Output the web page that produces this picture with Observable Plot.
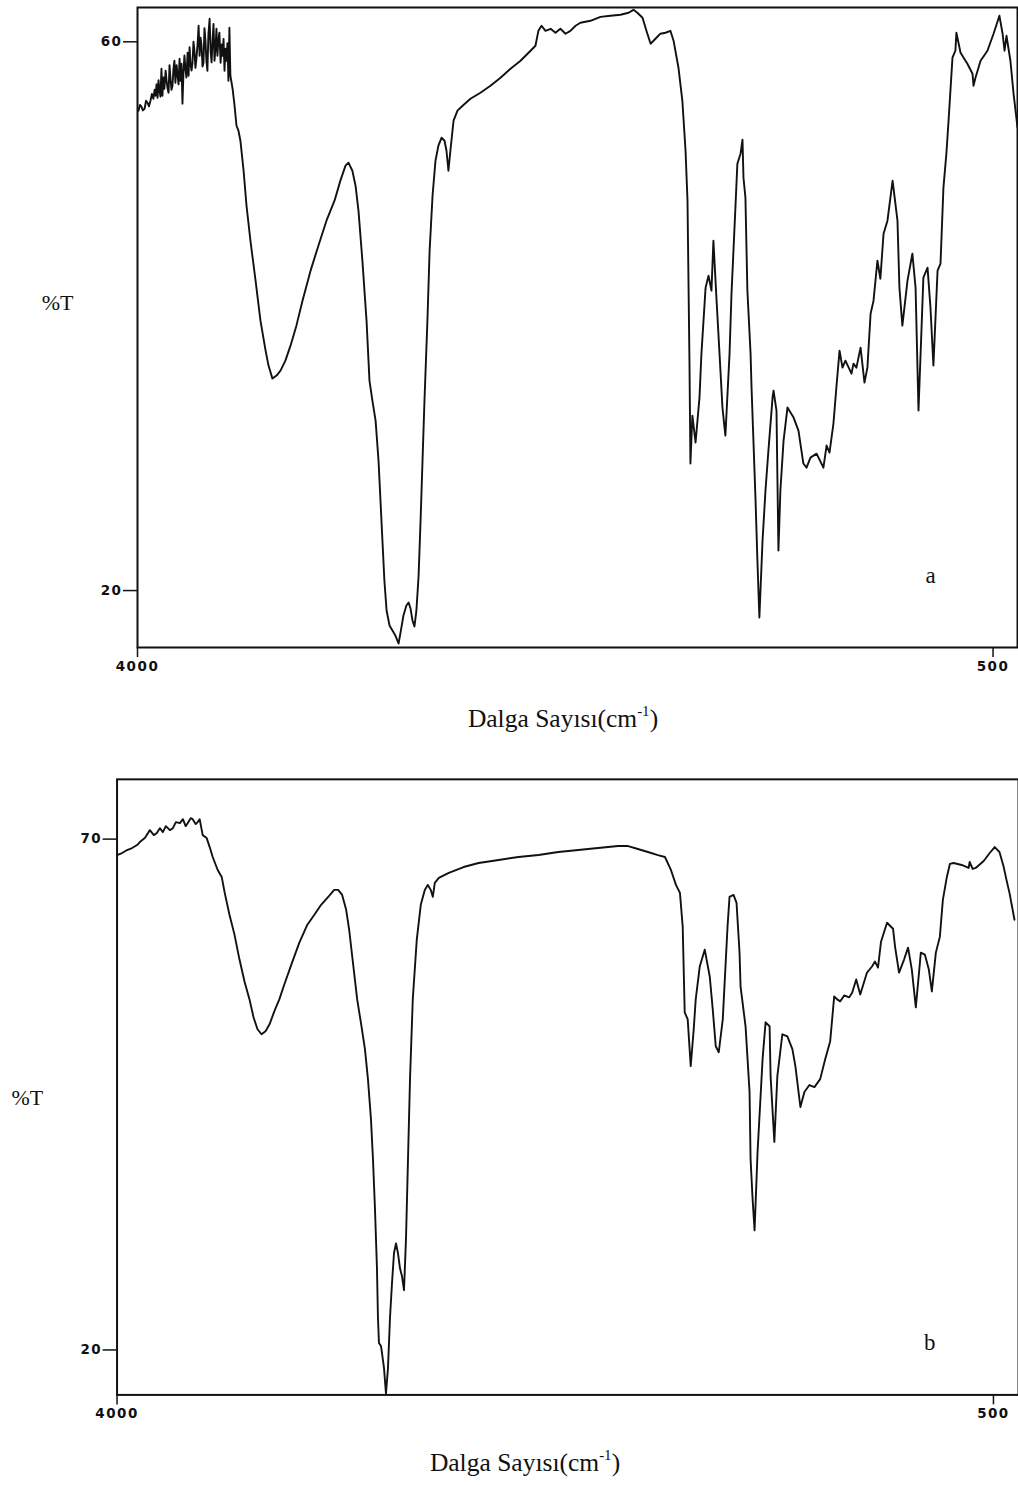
<!DOCTYPE html>
<html>
<head>
<meta charset="utf-8">
<script src="https://cdn.jsdelivr.net/npm/d3@7"></script>
<script src="https://cdn.jsdelivr.net/npm/@observablehq/plot@0.6"></script>
<style>
  html, body { margin: 0; padding: 0; background: #fff; overflow: hidden; }
  #page { position: relative; width: 1018px; height: 1485px; overflow: hidden; background: #fff; }
  .panel { position: absolute; left: 0; }
  .panel svg { overflow: visible; }
  .panel g[aria-label$="tick label"] text { letter-spacing: 1.5px; }
  .xcap {
    position: absolute; white-space: nowrap; transform: translateX(-50%);
    font-family: "Liberation Serif", "Times New Roman", serif; font-size: 25.5px; line-height: 26px; color: #111;
  }
  .xcap sup { font-size: 15px; vertical-align: 0; position: relative; top: -11px; }
</style>
</head>
<body>
<div id="page"></div>
<script>
// IR spectrum (a): [wavenumber cm-1, %T]
const spectrumA = [
  [3996,54.98],[3990,55.4],[3984,55.27],[3978,55.0],[3971,55.12],[3965,55.7],[3959,55.56],[3953,55.3],
  [3947,55.70],[3941,56.2],[3935,55.85],[3930,56.5],[3926,56.07],[3922,56.9],[3918,55.92],[3914,57.2],
  [3910,56.43],[3906,56.0],[3902,58.04],[3898,56.07],[3894,57.4],[3890,56.58],[3885,57.9],[3881,57.16],
  [3877,56.6],[3873,56.29],[3869,58.3],[3865,57.31],[3861,56.5],[3857,56.80],[3853,58.0],[3849,58.62],
  [3845,57.02],[3840,58.3],[3836,57.53],[3832,56.9],[3828,58.76],[3824,57.16],[3820,58.4],[3816,55.49],
  [3812,57.74],[3808,59.0],[3804,58.04],[3800,57.4],[3795,59.20],[3791,57.53],[3787,59.6],[3783,58.40],
  [3779,57.9],[3775,58.47],[3771,60.0],[3767,59.35],[3763,58.1],[3759,58.76],[3754,59.9],[3750,61.17],
  [3746,58.98],[3742,60.3],[3738,59.71],[3734,58.2],[3730,58.47],[3726,61.0],[3722,60.08],[3718,58.6],
  [3714,57.89],[3710,60.5],[3705,61.68],[3701,59.35],[3697,58.5],[3693,60.08],[3689,61.3],[3685,58.62],
  [3681,59.5],[3677,60.95],[3673,58.98],[3669,60.1],[3665,60.66],[3660,58.47],[3656,59.8],[3652,58.98],
  [3648,60.2],[3644,57.89],[3640,59.5],[3636,58.62],[3632,59.9],[3628,57.16],[3624,61.02],[3620,57.53],
  [3611,56.58],[3603,55.34],[3595,53.88],[3587,53.52],[3579,52.79],[3566,50.60],
  [3554,48.05],[3538,45.50],[3517,42.59],[3497,39.67],[3476,37.49],[3464,36.40],[3448,35.45],[3431,35.67],
  [3415,36.03],[3395,36.76],[3374,37.85],[3350,39.31],[3325,41.13],[3292,43.32],[3260,45.14],[3227,46.96],
  [3194,48.42],[3170,49.88],[3149,50.97],[3137,51.19],[3121,50.60],[3108,49.51],[3096,47.69],[3080,44.05],
  [3063,39.67],[3051,35.30],[3039,33.85],[3026,32.39],[3014,29.47],[3006,26.56],[2998,23.65],[2990,20.73],
  [2981,18.55],[2969,17.45],[2957,17.09],[2945,16.72],[2932,16.14],[2924,16.94],[2912,18.18],[2900,18.91],
  [2891,19.13],[2883,18.69],[2875,17.82],[2867,17.38],[2859,18.55],[2850,21.10],[2842,25.10],[2834,29.47],
  [2826,33.85],[2814,39.67],[2805,44.77],[2793,48.78],[2781,51.33],[2769,52.43],[2756,53.01],[2744,52.79],
  [2736,52.06],[2728,50.60],[2720,52.06],[2707,54.25],[2691,54.98],[2670,55.34],[2638,55.85],[2597,56.29],
  [2556,56.80],[2515,57.38],[2474,58.04],[2433,58.62],[2392,59.35],[2372,59.71],[2360,60.80],[2347,61.17],
  [2331,60.80],[2310,60.95],[2290,60.66],[2270,60.95],[2249,60.59],[2229,60.80],[2208,61.17],[2188,61.39],
  [2147,61.53],[2106,61.82],[2065,61.90],[2024,61.97],[1991,62.12],[1971,62.33],[1955,62.12],[1934,61.75],
  [1918,60.80],[1901,59.86],[1881,60.22],[1861,60.59],[1840,60.66],[1820,60.80],[1807,60.08],[1787,58.11],
  [1771,55.70],[1758,52.06],[1750,48.42],[1746,42.59],[1742,36.76],[1738,29.26],[1730,32.75],[1717,30.79],
  [1701,34.06],[1693,37.27],[1676,42.08],[1664,42.95],[1652,41.86],[1644,45.50],[1631,41.13],[1619,37.27],
  [1607,33.34],[1595,31.30],[1578,37.27],[1570,41.64],[1554,47.91],[1546,51.11],[1533,51.84],[1525,52.86],
  [1521,50.09],[1513,48.64],[1505,41.86],[1492,37.27],[1488,34.79],[1472,26.78],[1464,22.19],[1456,18.04],
  [1443,23.65],[1431,27.29],[1419,30.20],[1402,34.06],[1398,34.57],[1386,33.12],[1382,28.02],[1378,22.92],
  [1370,27.29],[1357,30.93],[1341,33.34],[1316,32.61],[1296,31.66],[1276,29.26],[1263,28.96],[1247,29.69],
  [1222,29.98],[1194,28.96],[1181,30.57],[1169,30.06],[1153,32.17],[1141,34.79],[1128,37.49],[1116,36.25],
  [1104,36.76],[1079,35.81],[1071,36.54],[1059,36.25],[1042,37.71],[1026,35.16],[1014,36.25],[1001,40.18],
  [989,41.13],[973,44.05],[961,42.73],[948,46.01],[932,46.96],[911,49.88],[891,46.96],[883,42.08],
  [871,39.31],[850,42.59],[830,44.56],[817,42.08],[805,33.12],[785,42.81],[768,43.54],[756,40.62],
  [744,36.40],[727,43.32],[715,43.83],[703,49.37],[691,51.84],[682,54.25],[666,58.84],[654,59.35],
  [650,60.66],[633,59.20],[605,58.40],[584,57.67],[580,56.80],[572,57.38],[551,58.62],[523,59.35],
  [498,60.59],[474,61.90],[461,60.59],[453,59.35],[445,60.44],[429,58.62],[416,56.21],[400,53.74]
];

// IR spectrum (b): [wavenumber cm-1, %T]
const spectrumB = [
  [4000,68.44],[3980,68.64],[3960,68.93],[3940,69.13],[3920,69.42],[3909,69.71],[3889,70.10],[3869,70.88],
  [3853,70.39],[3841,70.59],[3829,71.07],[3817,70.69],[3805,71.27],[3789,70.88],[3777,71.07],[3765,71.66],
  [3749,71.56],[3737,71.95],[3726,71.27],[3718,71.56],[3706,72.05],[3698,71.95],[3686,71.47],[3678,71.66],
  [3670,71.95],[3658,70.39],[3642,70.10],[3630,69.22],[3618,68.25],[3598,66.98],[3582,66.30],[3570,64.74],
  [3551,62.60],[3531,60.65],[3511,58.21],[3491,56.06],[3471,54.31],[3455,52.56],[3439,51.39],[3423,50.90],
  [3407,51.19],[3391,51.87],[3372,53.14],[3352,54.31],[3332,55.77],[3304,57.72],[3272,59.87],[3240,61.62],
  [3212,62.60],[3185,63.57],[3153,64.45],[3133,65.03],[3117,65.03],[3101,64.54],[3085,63.08],[3073,61.13],
  [3057,57.72],[3041,54.31],[3025,51.87],[3010,49.44],[2998,46.51],[2986,42.61],[2978,38.71],[2970,33.84],
  [2962,27.99],[2958,23.12],[2954,20.68],[2946,20.39],[2942,19.71],[2934,18.25],[2926,15.71],[2918,18.25],
  [2910,23.12],[2902,26.53],[2894,29.46],[2886,30.43],[2878,29.46],[2870,27.99],[2862,27.21],[2854,25.85],
  [2846,30.92],[2838,38.71],[2830,46.51],[2819,54.31],[2803,60.16],[2787,63.57],[2771,65.03],[2759,65.52],
  [2747,65.03],[2739,64.35],[2731,65.71],[2715,66.20],[2675,66.69],[2616,67.27],[2556,67.66],[2476,67.96],
  [2397,68.25],[2317,68.44],[2238,68.74],[2158,68.93],[2079,69.13],[1999,69.32],[1959,69.32],[1920,69.03],
  [1880,68.74],[1840,68.44],[1812,68.25],[1788,66.98],[1768,65.52],[1752,64.74],[1741,61.43],[1733,53.04],
  [1721,52.36],[1709,47.78],[1697,51.39],[1689,54.31],[1673,57.53],[1653,59.18],[1633,56.55],[1621,53.34],
  [1609,49.73],[1597,49.14],[1581,52.36],[1562,61.43],[1554,64.35],[1538,64.54],[1526,63.76],[1514,58.89],
  [1510,55.58],[1490,51.68],[1474,45.25],[1470,38.71],[1462,34.82],[1454,31.70],[1442,39.40],[1422,48.46],
  [1410,52.07],[1394,51.68],[1390,46.80],[1375,40.37],[1363,46.80],[1343,50.90],[1323,50.70],[1303,49.44],
  [1291,47.78],[1271,43.78],[1255,45.25],[1235,45.93],[1215,45.73],[1192,46.51],[1172,48.46],[1152,50.22],
  [1136,54.60],[1124,54.31],[1112,54.12],[1096,54.70],[1076,54.51],[1064,54.99],[1048,56.26],[1032,54.80],
  [1005,56.94],[985,57.53],[973,58.01],[961,57.43],[949,59.96],[925,61.81],[901,61.23],[893,59.48],
  [877,56.94],[857,58.21],[841,59.38],[826,57.23],[810,53.53],[790,58.89],[774,58.70],[758,57.23],
  [746,55.09],[730,58.89],[714,60.45],[702,64.06],[686,66.30],[674,67.57],[659,67.66],[627,67.47],
  [599,67.18],[595,67.76],[583,67.08],[571,67.18],[539,67.86],[515,68.64],[495,69.22],[476,68.74],
  [460,67.37],[448,66.01],[436,64.74],[416,62.11]
];

// Axis ticks and frame extents for each panel
const waveDomain = [4000, 400];
const waveTicks = [4000, 500];
const transDomainA = [15.85, 62.5];
const transTicksA = [20, 60];
const transDomainB = [15.6, 75.85];
const transTicksB = [20, 70];

const ink = "#111";
const tickFont = "DejaVu Sans, Verdana, sans-serif";
const serif = "Liberation Serif, Times New Roman, serif";

function spectrumPlot(points, opts) {
  const rows = points.map(([w, t]) => ({w, t}));
  return Plot.plot({
    width: opts.width,
    height: opts.height,
    marginLeft: opts.marginLeft,
    marginRight: opts.marginRight,
    marginTop: opts.marginTop,
    marginBottom: opts.marginBottom,
    style: {background: "#fff", color: ink, fontFamily: tickFont},
    x: {domain: waveDomain, axis: null},
    y: {domain: opts.yDomain, axis: null},
    marks: [
      Plot.frame({stroke: ink, strokeWidth: 2}),
      Plot.axisX({ticks: waveTicks, label: null, tickSize: 10, tickPadding: 4, tickFormat: d => String(d),
        stroke: ink, strokeWidth: 1.5, fontSize: 13.5, fontWeight: "bold", fill: ink}),
      Plot.axisY({ticks: opts.yTicks, label: null, tickSize: 14, tickPadding: 1, tickFormat: d => String(d),
        stroke: ink, strokeWidth: 1.5, fontSize: 13.5, fontWeight: "bold", fill: ink}),
      Plot.line(rows, {x: "w", y: "t", stroke: ink, strokeWidth: 1.9, clip: true}),
      Plot.text(["%T"], {text: d => d, frameAnchor: "left", dx: opts.labelDx, dy: opts.labelDy,
        textAnchor: "middle", fontFamily: serif, fontSize: 22, fill: ink}),
      Plot.text([opts.letter], {text: d => d, frameAnchor: "bottom-right", dx: opts.letterDx, dy: opts.letterDy,
        textAnchor: "middle", fontFamily: serif, fontSize: 23, fill: ink})
    ]
  });
}

const page = document.getElementById("page");

function place(node, top) {
  node.classList.add("panel");
  node.style.top = top + "px";
  page.appendChild(node);
}

function caption(centerX, top) {
  const div = document.createElement("div");
  div.className = "xcap";
  div.style.left = centerX + "px";
  div.style.top = top + "px";
  div.innerHTML = "Dalga Sayısı(cm<sup>-1</sup>)";
  page.appendChild(div);
}

place(spectrumPlot(spectrumA, {
  width: 1018, height: 700, marginLeft: 137, marginRight: 1, marginTop: 7, marginBottom: 53,
  yDomain: transDomainA, yTicks: transTicksA, letter: "a",
  labelDx: -80, labelDy: -25, letterDx: -87, letterDy: -65
}), 0);
caption(563, 706);

place(spectrumPlot(spectrumB, {
  width: 1022, height: 700, marginLeft: 117, marginRight: 0, marginTop: 39, marginBottom: 43,
  yDomain: transDomainB, yTicks: transTicksB, letter: "b",
  labelDx: -90, labelDy: 11, letterDx: -89, letterDy: -45
}), 740);
caption(525, 1450);
</script>
</body>
</html>
